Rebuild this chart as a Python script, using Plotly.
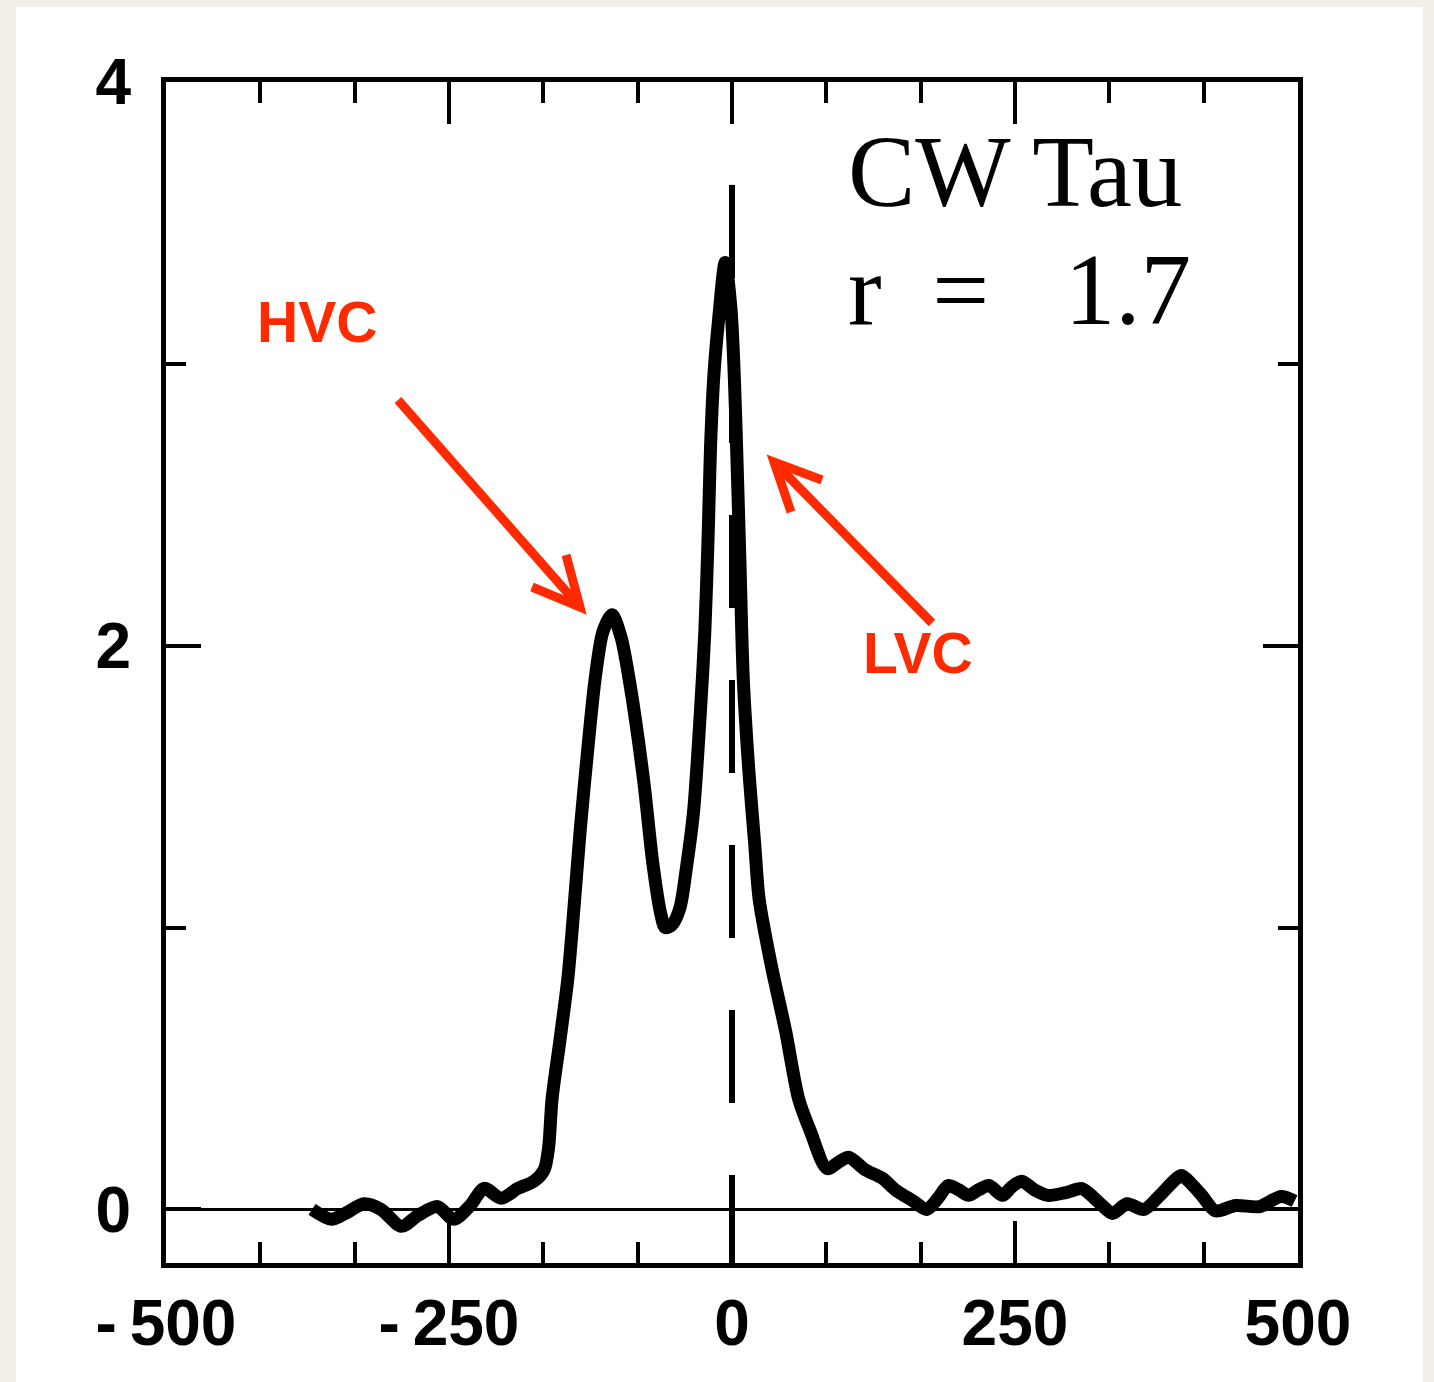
import plotly.graph_objects as go

# ---------------- data ----------------
velocity = [-371, -354, -342, -325, -310, -292, -277, -260, -246, -231, -219, -204, -189, -175,
            -166, -162, -159, -152, -145, -139, -134, -127, -121, -114, -106, -98, -90, -78,
            -70, -63, -59, -53, -46, -40, -34, -28, -24, -21, -19, -16, -12, -6, -1, 2, 4.4,
            7, 10, 15, 20, 24, 35, 47.5, 59, 69, 84, 95, 103, 118, 133, 145, 160, 172, 182,
            191, 200, 209, 218, 227, 239, 247, 256, 267, 279, 295, 309, 320, 327, 336, 349,
            364, 378, 390, 397, 406, 415, 427, 445, 466, 485, 497]
flux = [0.00, -0.035, -0.015, 0.02, 0.0, -0.06, -0.02, 0.01, -0.035, 0.015, 0.075, 0.04, 0.075, 0.10,
        0.14, 0.22, 0.39, 0.60, 0.82, 1.10, 1.35, 1.65, 1.88, 2.05, 2.11, 2.03, 1.86, 1.52,
        1.23, 1.05, 1.00, 1.01, 1.07, 1.22, 1.41, 1.76, 2.05, 2.40, 2.70, 2.96, 3.15, 3.36, 3.20, 2.96, 2.66,
        2.30, 1.88, 1.55, 1.30, 1.10, 0.86, 0.63, 0.39, 0.28, 0.145, 0.17, 0.185, 0.14, 0.11, 0.067, 0.03, 0.0, 0.04,
        0.085, 0.07, 0.05, 0.07, 0.085, 0.05, 0.08, 0.10, 0.07, 0.05, 0.06, 0.074, 0.04, 0.014, -0.014, 0.02,
        0.0, 0.05, 0.10, 0.12, 0.09, 0.05, -0.005, 0.014, 0.01, 0.046, 0.03]

rest_x = [0, 0]
rest_y = [3.635, -0.19]

x_tickvals = [-500, -250, 0, 250, 500]
x_ticktext = ["-\u2009500", "-\u2009250", "0", "250", "500"]
y_tickvals = [0, 2, 4]
y_ticktext = ["0", "2", "4"]

x_range = [-500, 500]
y_range = [-0.19, 4]

title_lines = ["CW Tau", "r\u00a0\u00a0=\u00a0\u00a0\u00a01.7"]
labels = ["HVC", "LVC"]

# ---------------- layout geometry (pixels) ----------------
W, H = 1434, 1382
ML, MR, MT, MB = 166, 136, 82, 119
PW, PH = W - ML - MR, H - MT - MB


def px2data(px, py):
    x = x_range[0] + (px - ML) / PW * (x_range[1] - x_range[0])
    y = y_range[1] - (py - MT) / PH * (y_range[1] - y_range[0])
    return x, y


def px2paper(px, py):
    return (px - ML) / PW, (H - MB - py) / PH


RED = "#FF2A00"

fig = go.Figure()

fig.add_trace(go.Scatter(x=rest_x, y=rest_y, mode="lines",
                         line=dict(color="black", width=6, dash="93px,72px"),
                         hoverinfo="skip", showlegend=False))
fig.add_trace(go.Scatter(x=velocity, y=flux, mode="lines",
                         line=dict(color="black", width=13, shape="spline", smoothing=0.8),
                         showlegend=False))

tickfont = dict(family="Liberation Sans", size=64, color="black", weight="bold")

fig.update_xaxes(range=x_range, showline=True, linewidth=5, linecolor="black", mirror="ticks",
                 ticks="inside", ticklen=42, tickwidth=4, tickcolor="black",
                 tickvals=x_tickvals, ticktext=x_ticktext, tickfont=tickfont,
                 ticklabelstandoff=0,
                 minor=dict(ticks="inside", ticklen=21, tickwidth=4, tickcolor="black",
                            tick0=-500, dtick=250 / 3),
                 showgrid=False, zeroline=False, fixedrange=True)
fig.update_yaxes(range=y_range, showline=True, linewidth=5, linecolor="black", mirror="ticks",
                 ticks="inside", ticklen=35, tickwidth=4, tickcolor="black",
                 tickvals=y_tickvals, ticktext=y_ticktext, tickfont=tickfont,
                 ticklabelstandoff=17,
                 minor=dict(ticks="inside", ticklen=20, tickwidth=4, tickcolor="black",
                            tick0=0, dtick=1),
                 showgrid=False, zeroline=True, zerolinewidth=3, zerolinecolor="black",
                 fixedrange=True)

# white panel over beige page
x0, y1 = px2paper(16, 7)
x1, y0 = px2paper(1423, 1390)
shapes = [dict(type="rect", xref="paper", yref="paper", x0=x0, x1=x1, y0=y0, y1=y1,
               fillcolor="white", line=dict(width=0), layer="below")]


def arrow_path(points):
    d = ""
    for i, (px, py) in enumerate(points):
        x, y = px2data(px, py)
        d += ("M" if i == 0 else "L") + f"{x:.3f},{y:.4f} "
    return d.strip()


arrow_specs = [
    [(398, 400), (580, 607)],
    [(532, 587), (580, 607), (566, 555)],
    [(932, 623), (774, 462)],
    [(822, 480), (774, 462), (791, 512)],
]
for pts in arrow_specs:
    shapes.append(dict(type="path", xref="x", yref="y", path=arrow_path(pts),
                       line=dict(color=RED, width=9), layer="above"))

annotations = []
ax_, ay_ = px2data(846, 172)
annotations.append(dict(x=ax_, y=ay_, xref="x", yref="y", text=title_lines[0], showarrow=False,
                        xanchor="left", yanchor="middle",
                        font=dict(family="Liberation Serif", size=101, color="black")))
ax_, ay_ = px2data(846, 290)
annotations.append(dict(x=ax_, y=ay_, xref="x", yref="y", text=title_lines[1], showarrow=False,
                        xanchor="left", yanchor="middle",
                        font=dict(family="Liberation Serif", size=101, color="black")))
for lab, (px, py) in zip(labels, [(317, 322), (918, 653)]):
    ax_, ay_ = px2data(px, py)
    annotations.append(dict(x=ax_, y=ay_, xref="x", yref="y", text=lab, showarrow=False,
                            xanchor="center", yanchor="middle",
                            font=dict(family="Liberation Sans", size=57, color=RED, weight="bold")))

fig.update_layout(width=W, height=H, margin=dict(l=ML, r=MR, t=MT, b=MB, pad=0),
                  paper_bgcolor="#F2EFE9", plot_bgcolor="white",
                  shapes=shapes, annotations=annotations, showlegend=False)

fig.write_html("out.html")
